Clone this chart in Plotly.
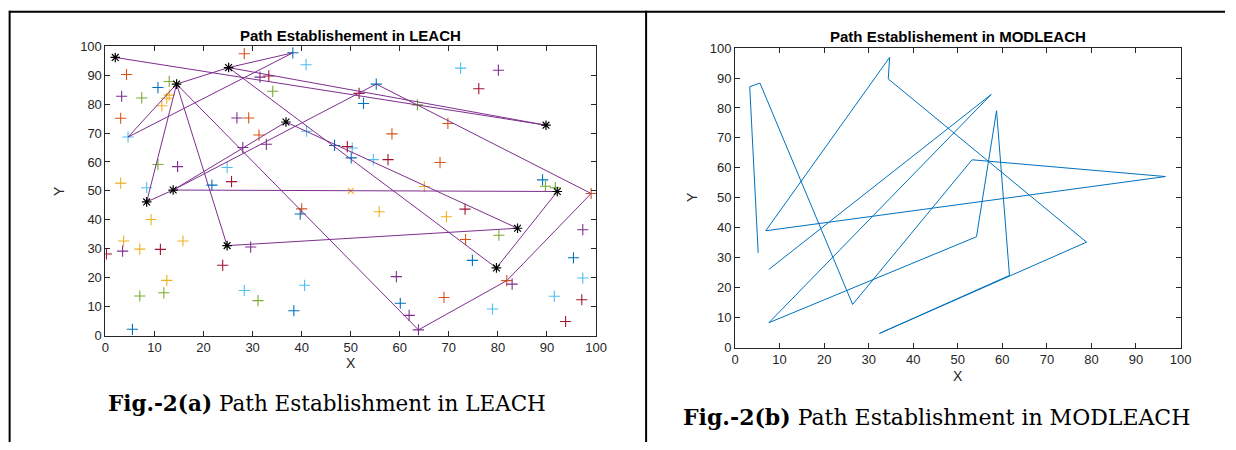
import plotly.graph_objects as go

W, H = 1236, 450

# ---------------- LEACH (left) data ----------------
blue_x = [10.7, 38.2, 55.2, 52.6, 46.7, 50.1, 21.7, 39.7, 89.1, 74.8, 95.4, 60.1, 38.4, 5.5]
blue_y = [85.7, 97.7, 86.9, 80.2, 65.7, 61.4, 52.0, 42.0, 53.8, 26.0, 26.9, 11.2, 8.6, 2.2]

orange_x = [4.3, 3.1, 28.3, 29.2, 31.3, 69.8, 58.4, 68.2, 40.0, 99.0, 73.4, 81.8, 69.0]
orange_y = [90.2, 75.1, 97.4, 75.2, 69.3, 73.3, 69.7, 59.8, 43.8, 49.1, 33.2, 19.0, 13.2]

yellow_x = [13.0, 12.5, 11.5, 3.1, 9.3, 3.7, 15.8, 7.0, 12.5, 65.0, 55.8, 69.5]
yellow_y = [83.1, 82.0, 79.4, 52.7, 40.1, 32.7, 32.7, 29.9, 19.1, 51.5, 42.8, 41.1]

purple_x = [3.3, 31.5, 26.8, 28.0, 32.8, 14.7, 80.1, 3.5, 29.6, 97.3, 59.3, 82.9, 61.9, 63.8]
purple_y = [82.7, 89.3, 75.2, 65.0, 66.1, 58.4, 91.7, 29.2, 30.6, 36.6, 20.4, 17.8, 7.0, 2.0]

green_x = [13.0, 7.4, 34.1, 10.7, 63.6, 89.7, 91.7, 80.2, 7.0, 11.9, 31.1]
green_y = [87.8, 82.1, 84.4, 59.1, 79.7, 51.6, 51.1, 34.7, 13.7, 14.8, 12.1]

lblue_x = [4.6, 40.9, 41.0, 24.8, 8.4, 72.4, 50.3, 54.6, 40.6, 28.3, 97.3, 91.5, 78.9]
lblue_y = [68.6, 93.6, 70.6, 58.1, 51.1, 92.4, 64.8, 60.8, 17.4, 15.6, 19.9, 13.6, 9.2]

dred_x = [33.3, 25.7, 76.1, 51.7, 49.3, 57.6, 11.2, 0.2, 23.9, 73.3, 97.1, 93.8]
dred_y = [89.7, 53.2, 85.3, 83.7, 65.3, 60.8, 29.8, 28.2, 24.3, 43.7, 12.4, 4.9]

sink_x = [50.0]
sink_y = [50.0]

ch_x = [2.0, 14.5, 25.1, 36.8, 89.8, 13.8, 8.4, 24.8, 92.1, 84.0, 79.7]
ch_y = [96.1, 86.9, 92.6, 73.8, 72.7, 50.3, 46.2, 31.1, 49.8, 37.1, 23.4]

leach_path_x = [2.0, 89.8, 25.1, 38.2, 4.6, 14.5, 25.1, 79.7, 92.1, 13.8, 8.4, 14.5,
                63.8, 81.8, 99.0, 55.2, 13.8, 36.8, 84.0, 24.8, 14.5]
leach_path_y = [96.1, 72.7, 92.6, 97.7, 68.6, 86.9, 92.6, 23.4, 49.8, 50.3, 46.2, 86.9,
                2.0, 19.0, 49.1, 86.9, 50.3, 73.8, 37.1, 31.1, 86.9]

# ---------------- MODLEACH (right) data ----------------
mod_path_x = [5.2, 3.3, 5.6, 26.4, 53.2, 96.6, 6.9, 34.7, 34.4, 78.9, 32.4, 61.6, 58.7, 54.2, 7.6, 57.5, 7.6]
mod_path_y = [31.6, 87.1, 88.3, 14.4, 62.7, 57.1, 39.0, 96.9, 89.7, 35.2, 4.7, 24.1, 79.1, 37.0, 8.3, 84.5, 26.1]

ticks = [0, 10, 20, 30, 40, 50, 60, 70, 80, 90, 100]

fig = go.Figure()

groups = [
    (blue_x, blue_y, "#0072BD"),
    (orange_x, orange_y, "#D95319"),
    (yellow_x, yellow_y, "#EDB120"),
    (purple_x, purple_y, "#7E2F8E"),
    (green_x, green_y, "#77AC30"),
    (lblue_x, lblue_y, "#4DBEEE"),
    (dred_x, dred_y, "#A2142F"),
]
for gx, gy, col in groups:
    fig.add_trace(go.Scatter(x=gx, y=gy, mode="markers", xaxis="x", yaxis="y",
                             marker=dict(symbol="cross-thin", size=8, color=col,
                                         line=dict(color=col, width=1.1)),
                             showlegend=False, hoverinfo="skip"))
fig.add_trace(go.Scatter(x=sink_x, y=sink_y, mode="markers", xaxis="x", yaxis="y",
                         marker=dict(symbol="x-thin", size=6, color="#EDB120",
                                     line=dict(color="#EDB120", width=1.1)),
                         showlegend=False))
fig.add_trace(go.Scatter(x=leach_path_x, y=leach_path_y, mode="lines", xaxis="x", yaxis="y",
                         line=dict(color="#7E2F8E", width=1), showlegend=False))
fig.add_trace(go.Scatter(x=ch_x, y=ch_y, mode="markers", xaxis="x", yaxis="y",
                         marker=dict(symbol="asterisk-open", size=8, color="black",
                                     line=dict(color="black", width=1.2)),
                         showlegend=False))
fig.add_trace(go.Scatter(x=mod_path_x, y=mod_path_y, mode="lines", xaxis="x2", yaxis="y2",
                         line=dict(color="#0072BD", width=1), showlegend=False))

axcol = "#262626"
common = dict(range=[0, 100], tickvals=ticks, ticks="inside", ticklen=5, tickcolor=axcol,
              showline=True, linecolor=axcol, linewidth=1, mirror="ticks",
              showgrid=False, zeroline=False,
              tickfont=dict(family="Liberation Sans", size=13, color=axcol))

fig.update_layout(
    width=W, height=H, margin=dict(l=0, r=0, t=0, b=0),
    paper_bgcolor="white", plot_bgcolor="white",
    xaxis=dict(domain=[102.7 / W, 599.3 / W], anchor="y", **common),
    yaxis=dict(domain=[1 - 340 / H, 1 - 40.5 / H], anchor="x", **common),
    xaxis2=dict(domain=[740 / W, 1191 / W], anchor="y2", **common),
    yaxis2=dict(domain=[1 - 352.3 / H, 1 - 42.5 / H], anchor="x2", **common),
)

def px(x):
    return x / W

def py(y):
    return 1 - y / H

ann = []
lab = dict(family="Liberation Sans", size=15, color="black")
ann.append(dict(x=px(351), y=py(30), text="<b>Path Establishement in LEACH</b>", font=lab))
ann.append(dict(x=px(965.5), y=py(31), text="<b>Path Establishement in MODLEACH</b>", font=lab))
axl = dict(family="Liberation Sans", size=14, color=axcol)
ann.append(dict(x=px(351), y=py(368), text="X", font=axl))
ann.append(dict(x=px(55), y=py(190), text="Y", font=axl, textangle=-90))
ann.append(dict(x=px(965.5), y=py(382), text="X", font=axl))
ann.append(dict(x=px(697), y=py(197), text="Y", font=axl, textangle=-90))
cap_a = dict(family="DejaVu Serif", size=21.5, color="black")
cap_b = dict(family="DejaVu Serif", size=22, color="black")
ann.append(dict(x=px(327), y=py(410), text="<b>Fig.-2(a)</b> Path Establishment in LEACH", font=cap_a))
ann.append(dict(x=px(944), y=py(424), text="<b>Fig.-2(b)</b> Path Establishment in MODLEACH", font=cap_b))
for a in ann:
    a.update(xref="paper", yref="paper", showarrow=False, xanchor="center", yanchor="middle")
fig.update_layout(annotations=ann)

shapes = [
    dict(type="line", x0=px(5), x1=1, y0=py(4.8), y1=py(4.8), line=dict(color="black", width=2)),
    dict(type="line", x0=px(5.7), x1=px(5.7), y0=py(4), y1=0, line=dict(color="black", width=2)),
    dict(type="line", x0=px(650), x1=px(650), y0=py(4), y1=0, line=dict(color="black", width=2)),
]
for s in shapes:
    s.update(xref="paper", yref="paper")
fig.update_layout(shapes=shapes)

fig.write_html(
    "out.html",
    config={"displayModeBar": False},
    post_script="document.body.style.margin='0';document.body.style.padding='0';"
                "document.documentElement.style.overflow='hidden';",
)
